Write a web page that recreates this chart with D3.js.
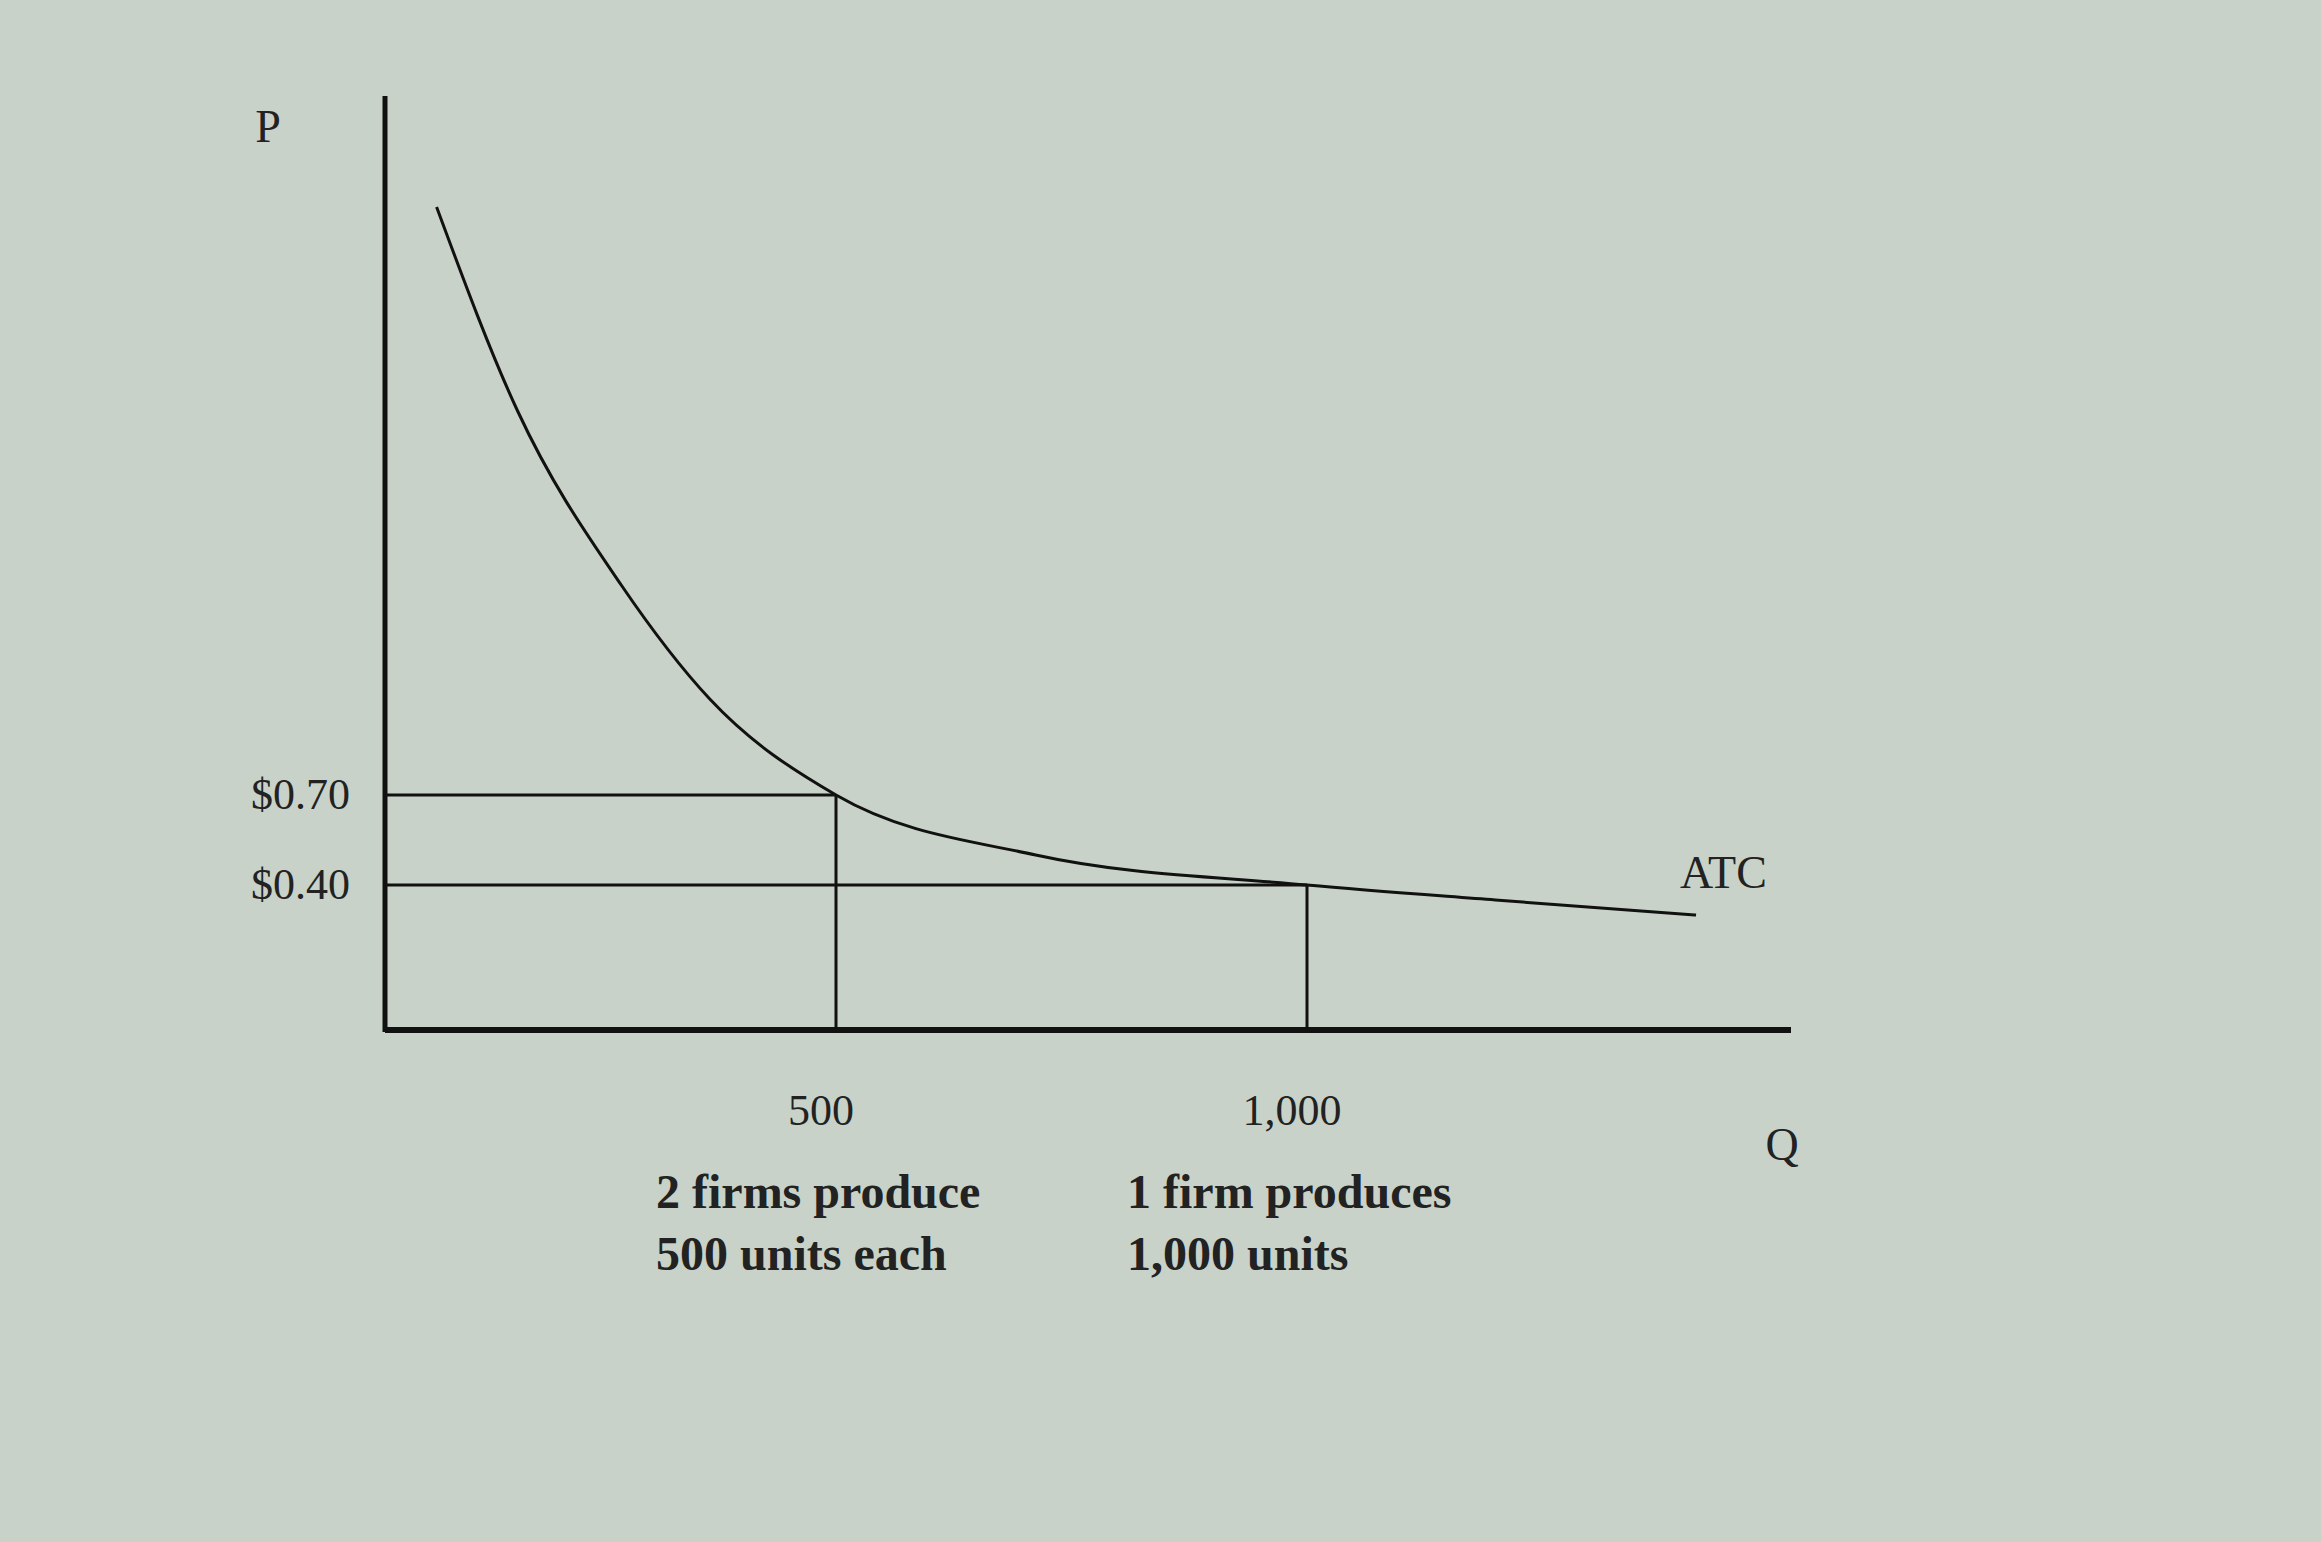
<!DOCTYPE html>
<html><head><meta charset="utf-8">
<script src="https://cdn.jsdelivr.net/npm/d3@7"></script>
<style>body{margin:0;background:#c8d2c8;}</style>
</head><body><div id="chart"></div>
<script>
// ATC curve
var atcQ = [76, 162, 272, 366, 500, 712, 1000, 1200, 1413];
var atcP = [2.66, 1.98, 1.40, 1.02, 0.70, 0.50, 0.40, 0.35, 0.30];
var priceTicks = [0.70, 0.40];
var priceLabels = ["$0.70", "$0.40"];
var qtyTicks = [500, 1000];
var qtyLabels = ["500", "1,000"];
var qtyNotes = [["2 firms produce", "500 units each"], ["1 firm produces", "1,000 units"]];

var W = 2321, H = 1542;
var svg = d3.select("#chart").append("svg")
	.attr("width", W).attr("height", H)
	.style("font-family", "'Liberation Serif', 'DejaVu Serif', serif");

svg.append("rect").attr("width", W).attr("height", H).attr("fill", "#c8d2c8");

var x = d3.scaleLinear().domain([0, 1000]).range([365, 1307]);
var y = d3.scaleLinear().domain([0, 1]).range([1005, 705]);

var x0 = 385, yAxis = 1030;

// axes
svg.append("line").attr("x1", x0).attr("x2", x0).attr("y1", 96).attr("y2", yAxis + 2)
	.attr("stroke", "#111").attr("stroke-width", 5);
svg.append("line").attr("x1", x0).attr("x2", 1791).attr("y1", yAxis).attr("y2", yAxis)
	.attr("stroke", "#111").attr("stroke-width", 6);

// curve
var pts = atcQ.map((q, i) => [x(q), y(atcP[i])]);
svg.append("path").attr("d", d3.line().curve(d3.curveMonotoneX)(pts))
	.attr("fill", "none").attr("stroke", "#111").attr("stroke-width", 3);

// guide lines
priceTicks.forEach(function(p, i) {
	svg.append("line").attr("x1", x0).attr("x2", x(qtyTicks[i])).attr("y1", y(p)).attr("y2", y(p))
		.attr("stroke", "#111").attr("stroke-width", 3);
	svg.append("line").attr("x1", x(qtyTicks[i])).attr("x2", x(qtyTicks[i])).attr("y1", y(p)).attr("y2", yAxis)
		.attr("stroke", "#111").attr("stroke-width", 3);
	svg.append("text").attr("x", 350).attr("y", y(p) + 14).attr("text-anchor", "end")
		.attr("font-size", 44).attr("fill", "#222").text(priceLabels[i]);
});

qtyTicks.forEach(function(q, i) {
	svg.append("text").attr("x", x(q) - 15).attr("y", 1125).attr("text-anchor", "middle")
		.attr("font-size", 44).attr("fill", "#222").text(qtyLabels[i]);
	qtyNotes[i].forEach(function(t, j) {
		svg.append("text").attr("x", x(q) - 180).attr("y", 1208 + j * 62)
			.attr("font-size", 48).attr("font-weight", "bold").attr("fill", "#222").text(t);
	});
});

svg.append("text").attr("x", 268).attr("y", 142).attr("text-anchor", "middle")
	.attr("font-size", 46).attr("fill", "#222").text("P");
svg.append("text").attr("x", 1782).attr("y", 1160).attr("text-anchor", "middle")
	.attr("font-size", 46).attr("fill", "#222").text("Q");
svg.append("text").attr("x", 1680).attr("y", 888)
	.attr("font-size", 46).attr("fill", "#222").text("ATC");
</script></body></html>
